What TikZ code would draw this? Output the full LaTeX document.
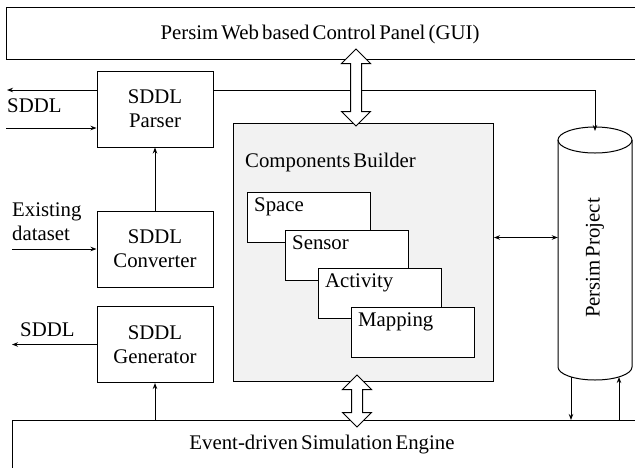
\documentclass[tikz,border=0pt]{standalone}
\usepackage{fontspec}
\setmainfont{Liberation Serif}
\newfontfamily\figfont{Liberation Serif}[WordSpace=0.6]
\usetikzlibrary{arrows.meta,shapes.arrows}
\definecolor{cbfill}{HTML}{F2F2F2}
\begin{document}
\begin{tikzpicture}[x=1pt,y=-1pt,
  every node/.style={font=\figfont\fontsize{20.8}{24}\selectfont},
  box/.style={draw,line width=1pt,minimum width=116pt,minimum height=76pt,align=center,inner sep=0pt},
  sub/.style={draw,line width=1pt,fill=white,minimum width=123pt,minimum height=50pt,anchor=north west,inner sep=0pt},
  sublabel/.style={anchor=north west,inner xsep=7pt,inner ysep=6pt},
  conn/.style={line width=1pt,-{Stealth[length=6pt,width=4.5pt]}},
  bconn/.style={line width=1pt,{Stealth[length=6pt,width=4.5pt]}-{Stealth[length=6pt,width=4.5pt]}},
  dbl/.style={double arrow,draw,line width=1pt,fill=white,inner sep=5pt,double arrow head extend=9pt,minimum height=#1,shape border rotate=90}
]
\useasboundingbox (0,0) rectangle (635,467);
\clip (0,0) rectangle (635,467);
% GUI bar
\node[draw,line width=1pt,anchor=west,minimum width=680pt,minimum height=52pt] (gui) at (6,33) {};
\node (guit) at (320,34) {Persim Web based Control Panel (GUI)};
% Engine bar
\node[draw,line width=1pt,anchor=north west,minimum width=700pt,minimum height=80pt] (engine) at (12,420) {};
\node (enginet) at (322,445) {Event-driven Simulation Engine};
% left boxes
\node[box] (parser) at (155,109) {SDDL\\Parser};
\node[box] (conv) at (155,249) {SDDL\\Converter};
\node[box] (gen) at (155,344.5) {SDDL\\Generator};
% components builder
\node[draw,line width=1pt,fill=cbfill,anchor=north west,minimum width=260pt,minimum height=258pt,inner sep=0pt] (comp) at (233,123) {};
\node[anchor=west,inner sep=0pt] (compt) at (245,162) {Components Builder};
\node[sub] (space) at (247,192) {};
\node[sublabel] at (space.north west) {Space};
\node[sub] (sensor) at (285,230) {};
\node[sublabel] at (sensor.north west) {Sensor};
\node[sub] (activity) at (318,268) {};
\node[sublabel] at (activity.north west) {Activity};
\node[sub] (mapping) at (351,307) {};
\node[sublabel] at (mapping.north west) {Mapping};
% cylinder
\draw[line width=1pt] (558,140) -- (558,367)
  .. controls (558,374.18) and (574.57,380) .. (595,380)
  .. controls (615.43,380) and (632,374.18) .. (632,367) -- (632,140);
\draw[line width=1pt] (595,140) ellipse [x radius=37pt, y radius=13pt];
\node[minimum width=74pt,minimum height=227pt,inner sep=0pt] (proj) at (595,253.5) {};
\node[rotate=90] (projt) at (595,258) {Persim Project};
\coordinate (ptop) at (595,131);
\coordinate (pb1) at (571,377);
\coordinate (pb2) at (619,377);
% left free ends
\coordinate (o1) at (7,90);
\coordinate (i1) at (6,128);
\coordinate (i2) at (12,249);
\coordinate (o2) at (12,344.5);
\node[anchor=west,inner sep=0pt] (l1) at (7,106) {SDDL};
\node[anchor=west,inner sep=0pt,align=left] (l2) at (12,222) {Existing\\dataset};
\node[anchor=west,inner sep=0pt] (l3) at (20,330) {SDDL};
% connectors
\draw[conn] ([yshift=19pt]parser.west) -- (o1);
\draw[conn] (i1) -- (i1 -| parser.west);
\draw[conn] ([yshift=19pt]parser.east) -| (ptop);
\draw[conn] (conv.north) -- (parser.south);
\draw[conn] (i2) -- (conv.west);
\draw[conn] (gen.west) -- (o2);
\draw[conn] (gen.south |- engine.north) -- (gen.south);
\draw[bconn] ([yshift=15pt]comp.east) -- ([yshift=15pt]comp.east -| proj.west);
\draw[conn] (pb1) -- (pb1 |- engine.north);
\draw[conn] (pb2 |- engine.north) -- (pb2);
% double arrows
\node[dbl=77pt] (da1) at (356,87.5) {};
\node[dbl=52pt] (da2) at (357,401) {};
\end{tikzpicture}
\end{document}
